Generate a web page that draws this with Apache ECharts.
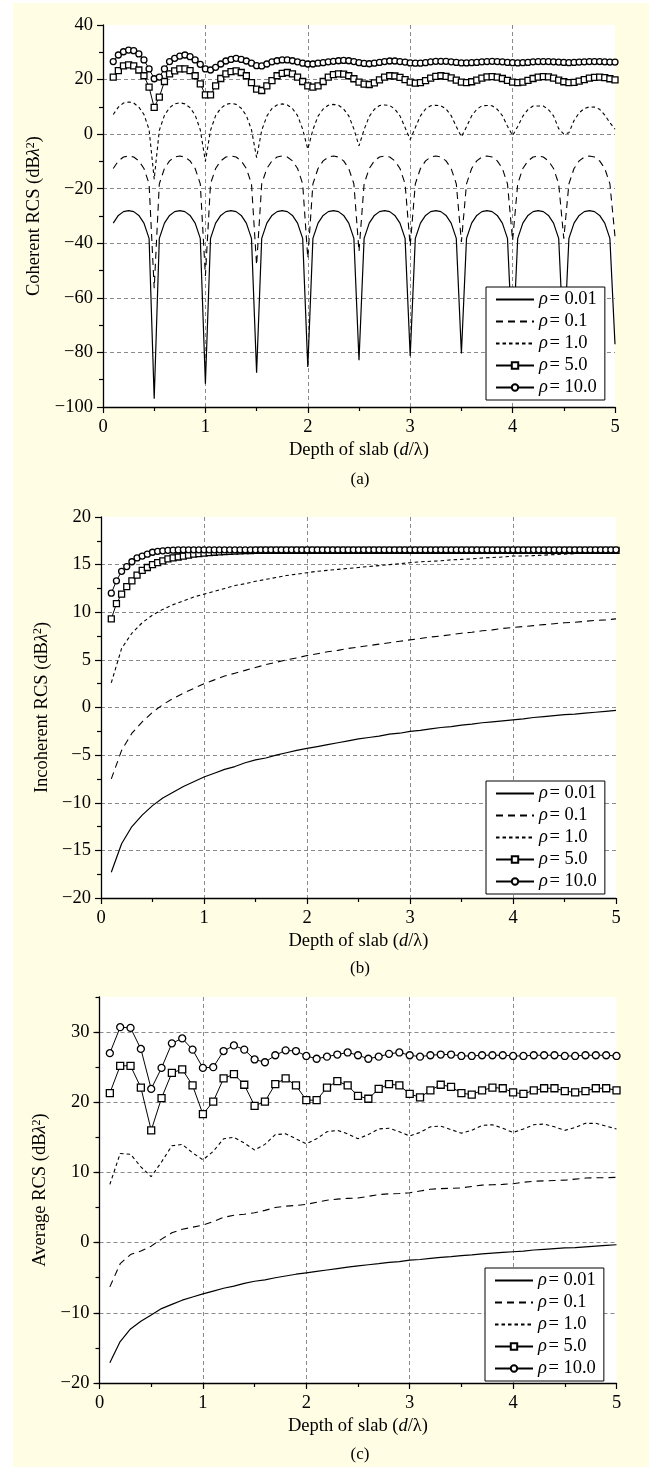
<!DOCTYPE html>
<html>
<head>
<meta charset="utf-8">
<script src="https://cdn.jsdelivr.net/npm/echarts@6/dist/echarts.min.js"></script>
<style>
  html, body { margin: 0; padding: 0; background: #fff; }
  #bg { position: absolute; left: 13px; top: 3px; width: 636px; height: 1464px; background: #fffde4; }
  #chart { position: absolute; left: 0; top: 0; width: 649px; height: 1467px; }
</style>
</head>
<body>
<div id="bg"></div>
<div id="chart"></div>
<script>
// sample depths d/λ
const depthFine = [0.1,0.15,0.2,0.25,0.3,0.35,0.4,0.45,0.5,0.55,0.6,0.65,0.7,0.75,0.8,0.85,0.9,0.95,
  1,1.05,1.1,1.15,1.2,1.25,1.3,1.35,1.4,1.45,1.5,1.55,1.6,1.65,1.7,1.75,1.8,1.85,1.9,1.95,
  2,2.05,2.1,2.15,2.2,2.25,2.3,2.35,2.4,2.45,2.5,2.55,2.6,2.65,2.7,2.75,2.8,2.85,2.9,2.95,
  3,3.05,3.1,3.15,3.2,3.25,3.3,3.35,3.4,3.45,3.5,3.55,3.6,3.65,3.7,3.75,3.8,3.85,3.9,3.95,
  4,4.05,4.1,4.15,4.2,4.25,4.3,4.35,4.4,4.45,4.5,4.55,4.6,4.65,4.7,4.75,4.8,4.85,4.9,4.95,5]
const depthCoarse = [0.1,0.2,0.3,0.4,0.5,0.6,0.7,0.8,0.9,1,1.1,1.2,1.3,1.4,1.5,1.6,1.7,1.8,1.9,2,
  2.1,2.2,2.3,2.4,2.5,2.6,2.7,2.8,2.9,3,3.1,3.2,3.3,3.4,3.5,3.6,3.7,3.8,3.9,4,
  4.1,4.2,4.3,4.4,4.5,4.6,4.7,4.8,4.9,5]

const seriesNames = ['ρ\u200a= 0.01', 'ρ\u200a= 0.1', 'ρ\u200a= 1.0', 'ρ\u200a= 5.0', 'ρ\u200a= 10.0']

// (a) coherent RCS, fine depth grid
const cohRho001 = [-32.6,-29.8,-28.4,-28.0,-28.4,-29.8,-32.6,-38.2,-97.0,
  -38.2,-32.6,-29.8,-28.4,-28.0,-28.4,-29.8,-32.6,-38.2,-91.5,
  -38.2,-32.6,-29.8,-28.4,-28.0,-28.4,-29.8,-32.6,-38.2,-87.4,
  -38.2,-32.6,-29.8,-28.4,-28.0,-28.4,-29.8,-32.6,-38.2,-85.3,
  -38.2,-32.6,-29.8,-28.4,-28.0,-28.4,-29.8,-32.6,-38.2,-82.9,
  -38.2,-32.6,-29.8,-28.4,-28.0,-28.4,-29.8,-32.6,-38.2,-81.3,
  -38.2,-32.6,-29.8,-28.4,-28.0,-28.4,-29.8,-32.6,-38.2,-80.4,
  -38.2,-32.6,-29.8,-28.4,-28.0,-28.4,-29.8,-32.6,-38.2,-79.5,
  -38.2,-32.6,-29.8,-28.4,-28.0,-28.4,-29.8,-32.6,-38.2,-78.5,
  -38.2,-32.6,-29.8,-28.4,-28.0,-28.4,-29.8,-32.6,-38.2,-77.0]
const cohRho01 = [-12.6,-9.8,-8.4,-8.0,-8.4,-9.8,-12.6,-18.2,-56.5,
  -18.2,-12.6,-9.8,-8.4,-8.0,-8.4,-9.8,-12.6,-18.2,-52.0,
  -18.2,-12.6,-9.8,-8.4,-8.0,-8.4,-9.8,-12.6,-18.2,-48.0,
  -18.2,-12.6,-9.8,-8.4,-8.0,-8.4,-9.8,-12.6,-18.2,-45.5,
  -18.2,-12.6,-9.8,-8.4,-8.0,-8.4,-9.8,-12.6,-18.2,-43.0,
  -18.2,-12.6,-9.8,-8.4,-8.0,-8.4,-9.8,-12.6,-18.2,-41.0,
  -18.2,-12.6,-9.8,-8.4,-8.0,-8.4,-9.8,-12.6,-18.2,-39.5,
  -18.2,-12.6,-9.8,-8.4,-8.0,-8.4,-9.8,-12.6,-18.2,-39.0,
  -18.2,-12.6,-9.8,-8.4,-8.0,-8.4,-9.8,-12.6,-18.2,-38.3,
  -18.2,-12.6,-9.8,-8.4,-8.0,-8.4,-9.8,-12.6,-18.2,-37.5]
const cohRho1 = [7.2,9.9,11.4,11.8,11.4,9.9,7.2,1.7,-16.5,
  1.4,6.9,9.7,11.1,11.5,11.1,9.7,7.0,1.6,-10.0,
  1.4,6.8,9.5,10.9,11.3,10.9,9.5,6.8,1.6,-8.6,
  1.4,6.6,9.4,10.7,11.1,10.7,9.4,6.8,1.8,-5.5,
  1.6,6.6,9.2,10.6,10.9,10.6,9.2,6.7,1.9,-4.3,
  1.7,6.5,9.1,10.5,10.7,10.5,9.2,6.7,2.4,-2.0,
  2.4,6.7,9.2,10.4,10.6,10.4,9.2,6.8,2.8,-1.0,
  2.7,6.7,9.1,10.4,10.5,10.4,9.1,6.8,2.9,-0.5,
  2.8,6.6,9.0,10.3,10.3,10.3,9.0,6.7,2.0,0.0,
  0.5,5.0,7.8,9.4,10.0,9.9,9.1,7.0,4.2,1.8]
const cohRho5 = [20.9,23.3,25.0,25.4,25.0,23.5,21.4,17.2,9.8,13.6,19.3,22.1,23.2,23.9,23.9,23.3,21.4,18.4,
  14.4,14.4,17.7,20.4,22.1,22.9,23.2,22.6,21.4,18.9,16.5,16.0,17.7,19.6,21.4,22.3,22.6,22.1,20.9,19.3,
  17.7,17.2,17.7,19.3,20.9,21.8,22.1,22.0,21.4,20.3,19.1,18.3,18.2,18.8,19.9,20.9,21.4,21.3,20.8,20.0,
  19.1,18.7,18.9,19.6,20.5,21.2,21.4,21.2,20.6,19.8,19.1,18.9,19.2,19.8,20.5,21.0,21.1,20.9,20.4,19.7,
  19.1,18.9,19.1,19.7,20.4,20.9,21.1,21.0,20.5,19.8,19.2,18.9,19.0,19.4,20.0,20.5,20.8,20.9,20.7,20.3,
  19.9]
const cohRho10 = [26.6,29.0,30.2,30.8,30.6,29.4,27.2,23.9,20.3,20.9,23.9,26.6,27.8,28.6,29.0,28.4,27.2,25.6,
  23.9,23.5,24.5,25.7,26.8,27.4,27.8,27.4,26.8,26.0,25.1,25.0,25.7,26.5,26.9,27.2,27.2,26.9,26.5,26.0,
  25.7,25.7,26.0,26.2,26.5,26.7,26.9,27.0,26.9,26.6,26.2,25.9,25.8,26.0,26.3,26.6,26.8,26.8,26.6,26.4,
  26.1,26.0,26.0,26.2,26.5,26.7,26.7,26.7,26.5,26.3,26.1,26.1,26.2,26.3,26.5,26.6,26.7,26.6,26.5,26.3,
  26.2,26.1,26.2,26.3,26.5,26.6,26.6,26.6,26.5,26.4,26.3,26.2,26.3,26.4,26.5,26.6,26.6,26.6,26.5,26.4,
  26.4]

// (b) incoherent RCS; lines on coarse grid, marked series on fine grid
const incRho001 = [-17.3,-14.3,-12.5,-11.3,-10.3,-9.5,-8.9,-8.3,-7.8,-7.3,-6.9,-6.5,-6.2,-5.8,-5.5,-5.3,-5.0,-4.75,-4.5,-4.3,
  -4.1,-3.9,-3.7,-3.5,-3.3,-3.15,-3.0,-2.8,-2.7,-2.5,-2.4,-2.25,-2.1,-2.0,-1.85,-1.75,-1.6,-1.5,-1.4,-1.3,
  -1.2,-1.05,-0.95,-0.85,-0.75,-0.7,-0.6,-0.5,-0.4,-0.3]
const incRho01 = [-7.5,-4.5,-2.7,-1.5,-0.5,0.3,0.95,1.5,2.0,2.5,2.9,3.3,3.6,3.9,4.2,4.5,4.75,5.0,5.2,5.45,
  5.65,5.85,6.0,6.2,6.35,6.5,6.65,6.8,6.95,7.1,7.25,7.4,7.5,7.65,7.8,7.9,8.05,8.15,8.3,8.4,
  8.5,8.6,8.7,8.8,8.9,8.95,9.05,9.15,9.2,9.3]
const incRho1 = [2.6,6.2,7.8,8.9,9.7,10.3,10.8,11.2,11.6,11.9,12.2,12.5,12.8,13.0,13.25,13.45,13.65,13.85,14.0,14.15,
  14.3,14.4,14.5,14.6,14.7,14.8,14.9,15.0,15.1,15.2,15.3,15.35,15.4,15.5,15.55,15.6,15.7,15.75,15.8,15.9,
  15.9,15.95,16.0,16.05,16.1,16.15,16.2,16.2,16.25,16.3]
const incRho5 = [9.3,10.9,11.9,12.7,13.3,13.9,14.4,14.7,15.0,15.2,15.4,15.6,15.7,15.8,15.9,16.0,16.1,16.15,
  16.2,16.25,16.3,16.33,16.36,16.39,16.42,16.44,16.46,16.48,16.5,16.5,16.5,16.5,16.5,16.5,16.5,16.5,16.5,16.5,
  16.5,16.5,16.5,16.5,16.5,16.5,16.5,16.5,16.5,16.5,16.5,16.5,16.5,16.5,16.5,16.5,16.5,16.5,16.5,16.5,
  16.5,16.5,16.5,16.5,16.5,16.5,16.5,16.5,16.5,16.5,16.5,16.5,16.5,16.5,16.5,16.5,16.5,16.5,16.5,16.5,
  16.5,16.5,16.5,16.5,16.5,16.5,16.5,16.5,16.5,16.5,16.5,16.5,16.5,16.5,16.5,16.5,16.5,16.5,16.5,16.5,
  16.5]
const incRho10 = [12.0,13.3,14.3,14.8,15.3,15.7,15.9,16.1,16.3,16.4,16.45,16.5,16.52,16.54,16.55,16.55,16.55,16.55,
  16.55,16.55,16.55,16.55,16.55,16.55,16.55,16.55,16.55,16.55,16.55,16.55,16.55,16.55,16.55,16.55,16.55,16.55,16.55,16.55,
  16.55,16.55,16.55,16.55,16.55,16.55,16.55,16.55,16.55,16.55,16.55,16.55,16.55,16.55,16.55,16.55,16.55,16.55,16.55,16.55,
  16.55,16.55,16.55,16.55,16.55,16.55,16.55,16.55,16.55,16.55,16.55,16.55,16.55,16.55,16.55,16.55,16.55,16.55,16.55,16.55,
  16.55,16.55,16.55,16.55,16.55,16.55,16.55,16.55,16.55,16.55,16.55,16.55,16.55,16.55,16.55,16.55,16.55,16.55,16.55,16.55,
  16.55]

// (c) average RCS, coarse grid
const avgRho001 = [-17.1,-14.1,-12.3,-11.2,-10.3,-9.4,-8.8,-8.2,-7.75,-7.3,-6.9,-6.5,-6.2,-5.8,-5.5,-5.3,-5.0,-4.75,-4.5,-4.3,
  -4.1,-3.9,-3.7,-3.5,-3.3,-3.15,-3.0,-2.8,-2.7,-2.5,-2.4,-2.25,-2.1,-2.0,-1.85,-1.75,-1.6,-1.5,-1.4,-1.3,
  -1.2,-1.05,-0.95,-0.85,-0.75,-0.7,-0.6,-0.5,-0.4,-0.3]
const avgRho01 = [-6.3,-3.0,-1.7,-1.2,-0.5,0.5,1.4,1.9,2.2,2.5,3.0,3.6,3.9,4.05,4.25,4.6,5.0,5.2,5.3,5.45,
  5.75,6.05,6.2,6.3,6.35,6.6,6.85,6.95,7.0,7.1,7.35,7.6,7.7,7.75,7.8,8.0,8.2,8.25,8.3,8.4,
  8.6,8.75,8.8,8.85,8.9,9.05,9.2,9.25,9.25,9.3]
const avgRho1 = [8.3,12.7,12.6,10.8,9.4,11.5,13.8,14.0,12.8,11.8,13.0,14.8,15.0,14.2,13.2,14.0,15.4,15.5,14.8,14.1,
  14.8,15.8,16.0,15.5,14.8,15.4,16.2,16.3,15.8,15.2,15.7,16.5,16.6,16.1,15.6,16.0,16.7,16.8,16.3,15.7,
  16.2,16.8,16.9,16.5,16.0,16.4,17.0,17.0,16.6,16.2]
const avgRho5 = [21.3,25.2,25.2,22.1,16.0,20.6,24.2,24.7,22.4,18.3,20.1,23.4,24.0,22.5,19.5,20.1,22.6,23.4,22.4,20.3,
  20.3,22.1,23.0,22.4,20.9,20.5,21.9,22.6,22.4,21.2,20.7,21.7,22.5,22.2,21.3,21.1,21.7,22.1,22.0,21.4,
  21.2,21.7,22.0,22.0,21.6,21.4,21.6,22.0,22.0,21.7]
const avgRho10 = [27.0,30.7,30.6,27.6,21.9,24.9,28.4,29.1,27.5,24.9,25.0,27.3,28.1,27.5,26.1,25.7,26.7,27.4,27.3,26.6,
  26.2,26.5,26.8,27.1,26.7,26.2,26.5,26.9,27.1,26.7,26.5,26.7,26.8,26.8,26.6,26.6,26.7,26.7,26.7,26.6,
  26.6,26.7,26.7,26.7,26.6,26.6,26.7,26.7,26.7,26.6]

const FONT = "'Liberation Serif', 'DejaVu Serif', serif"
const GRID_LINE = { color: '#8a8a8a', type: [4, 3], width: 1 }

// line look for each rho, same order as seriesNames
const looks = [
  { type: 'solid', width: 1.2, symbol: 'none' },
  { type: [7, 5], width: 1.1, symbol: 'none' },
  { type: [3.5, 3], width: 1.1, symbol: 'none' },
  { type: 'solid', width: 1, symbol: 'rect' },
  { type: 'solid', width: 1, symbol: 'circle' }
]

function pairs(xs, ys) {
  return ys.map((y, i) => [xs[i], y])
}

function minus(v) {
  return String(v).replace('-', '\u2212')
}

function makeSeries(gridIdx, yIdx, sets, symbolSize) {
  return sets.map((s, i) => {
    const marked = looks[i].symbol !== 'none'
    return {
      name: seriesNames[i],
      type: 'line',
      xAxisIndex: gridIdx,
      yAxisIndex: yIdx,
      data: pairs(s[0], s[1]),
      symbol: looks[i].symbol,
      symbolSize: symbolSize,
      showSymbol: marked,
      showAllSymbol: true,
      lineStyle: { color: '#000', width: looks[i].width, type: looks[i].type },
      // plain lines get an invisible item style so the legend shows only the stroke
      itemStyle: marked
        ? { color: '#fff', borderColor: '#000', borderWidth: 1.3 }
        : { color: 'rgba(0,0,0,0)', borderColor: 'rgba(0,0,0,0)', borderWidth: 0 },
      z: 2 + i
    }
  })
}

function xAxisFor(g) {
  return {
    type: 'value', gridIndex: g, min: 0, max: 5, interval: 1,
    axisLine: { show: true, onZero: false, lineStyle: { color: '#000', width: 1.3 } },
    axisTick: { show: true, length: 6, lineStyle: { color: '#000', width: 1.2 } },
    minorTick: { show: true, splitNumber: 2, length: 4, lineStyle: { color: '#000', width: 1.2 } },
    axisLabel: { color: '#000', fontFamily: FONT, fontSize: 18.5, margin: 11 },
    splitLine: { show: true, showMinLine: false, showMaxLine: false, lineStyle: GRID_LINE },
    name: 'Depth of slab ({i|d}/λ)',
    nameLocation: 'middle', nameGap: 34,
    nameTextStyle: {
      color: '#000', fontFamily: FONT, fontSize: 18.5,
      rich: { i: { fontStyle: 'italic', fontFamily: FONT, fontSize: 18.5, color: '#000' } }
    }
  }
}

function yAxisFor(g, min, max, interval, title) {
  return {
    type: 'value', gridIndex: g, min: min, max: max, interval: interval,
    axisLine: { show: true, onZero: false, lineStyle: { color: '#000', width: 1.3 } },
    axisTick: { show: true, length: 6, lineStyle: { color: '#000', width: 1.2 } },
    minorTick: { show: true, splitNumber: 2, length: 4, lineStyle: { color: '#000', width: 1.2 } },
    axisLabel: { color: '#000', fontFamily: FONT, fontSize: 18.5, margin: 10, formatter: minus },
    splitLine: { show: true, showMinLine: false, showMaxLine: false, lineStyle: GRID_LINE },
    name: title + ' (dB{i|λ}{s|2})',
    nameLocation: 'middle', nameGap: 48, nameRotate: 90,
    nameTextStyle: {
      color: '#000', fontFamily: FONT, fontSize: 18.5,
      rich: {
        i: { fontStyle: 'italic', fontFamily: FONT, fontSize: 18.5, color: '#000' },
        s: { fontFamily: FONT, fontSize: 12, color: '#000', verticalAlign: 'top', lineHeight: 12 }
      }
    }
  }
}

function legendFor(left, top) {
  return {
    left: left, top: top, orient: 'vertical',
    data: seriesNames,
    backgroundColor: '#fff', borderColor: '#000', borderWidth: 1,
    padding: [3, 8, 3, 9], itemWidth: 38, itemHeight: 8, itemGap: 3,
    selectedMode: false,
    formatter: n => '{i|ρ}' + n.slice(1),
    textStyle: {
      color: '#000', fontFamily: FONT, fontSize: 18.5, lineHeight: 18,
      rich: { i: { fontStyle: 'italic', fontFamily: FONT, fontSize: 18.5, lineHeight: 18, color: '#000' } }
    }
  }
}

const panelLabel = (text, y) => ({
  type: 'text', x: 360, y: y,
  style: { text: text, font: "17px 'Liberation Serif'", fill: '#000', align: 'center', verticalAlign: 'middle' }
})

const chart = echarts.init(document.getElementById('chart'))

// chart (c) tops out at 35, ticks every 5 but labels every 10
const yC = yAxisFor(2, -20, 35, 10, 'Average RCS')
yC.minorTick = { show: false }
yC.axisLabel.showMaxLabel = false
const yCminor = {
  type: 'value', gridIndex: 2, min: -20, max: 35, interval: 5, position: 'left',
  axisLine: { show: false }, axisLabel: { show: false }, splitLine: { show: false },
  axisTick: { show: true, length: 4, lineStyle: { color: '#000', width: 1.2 } }
}

const option = {
  animation: false,
  backgroundColor: 'transparent',
  grid: [
    { left: 103, width: 512, top: 25, height: 382, show: true, backgroundColor: '#fff', borderWidth: 0 },
    { left: 101, width: 515, top: 517, height: 381, show: true, backgroundColor: '#fff', borderWidth: 0 },
    { left: 99.5, width: 517, top: 997, height: 386, show: true, backgroundColor: '#fff', borderWidth: 0 }
  ],
  xAxis: [xAxisFor(0), xAxisFor(1), xAxisFor(2)],
  yAxis: [
    yAxisFor(0, -100, 40, 20, 'Coherent RCS'),
    yAxisFor(1, -20, 20, 5, 'Incoherent RCS'),
    yC,
    yCminor
  ],
  legend: [legendFor(486, 287), legendFor(486, 781), legendFor(485, 1268)],
  graphic: [panelLabel('(a)', 480), panelLabel('(b)', 969), panelLabel('(c)', 1455)],
  series: [].concat(
    makeSeries(0, 0, [
      [depthFine, cohRho001], [depthFine, cohRho01], [depthFine, cohRho1],
      [depthFine, cohRho5], [depthFine, cohRho10]
    ], 6),
    makeSeries(1, 1, [
      [depthCoarse, incRho001], [depthCoarse, incRho01], [depthCoarse, incRho1],
      [depthFine, incRho5], [depthFine, incRho10]
    ], 6),
    makeSeries(2, 2, [
      [depthCoarse, avgRho001], [depthCoarse, avgRho01], [depthCoarse, avgRho1],
      [depthCoarse, avgRho5], [depthCoarse, avgRho10]
    ], 7)
  )
}

chart.setOption(option)
</script>
</body>
</html>
